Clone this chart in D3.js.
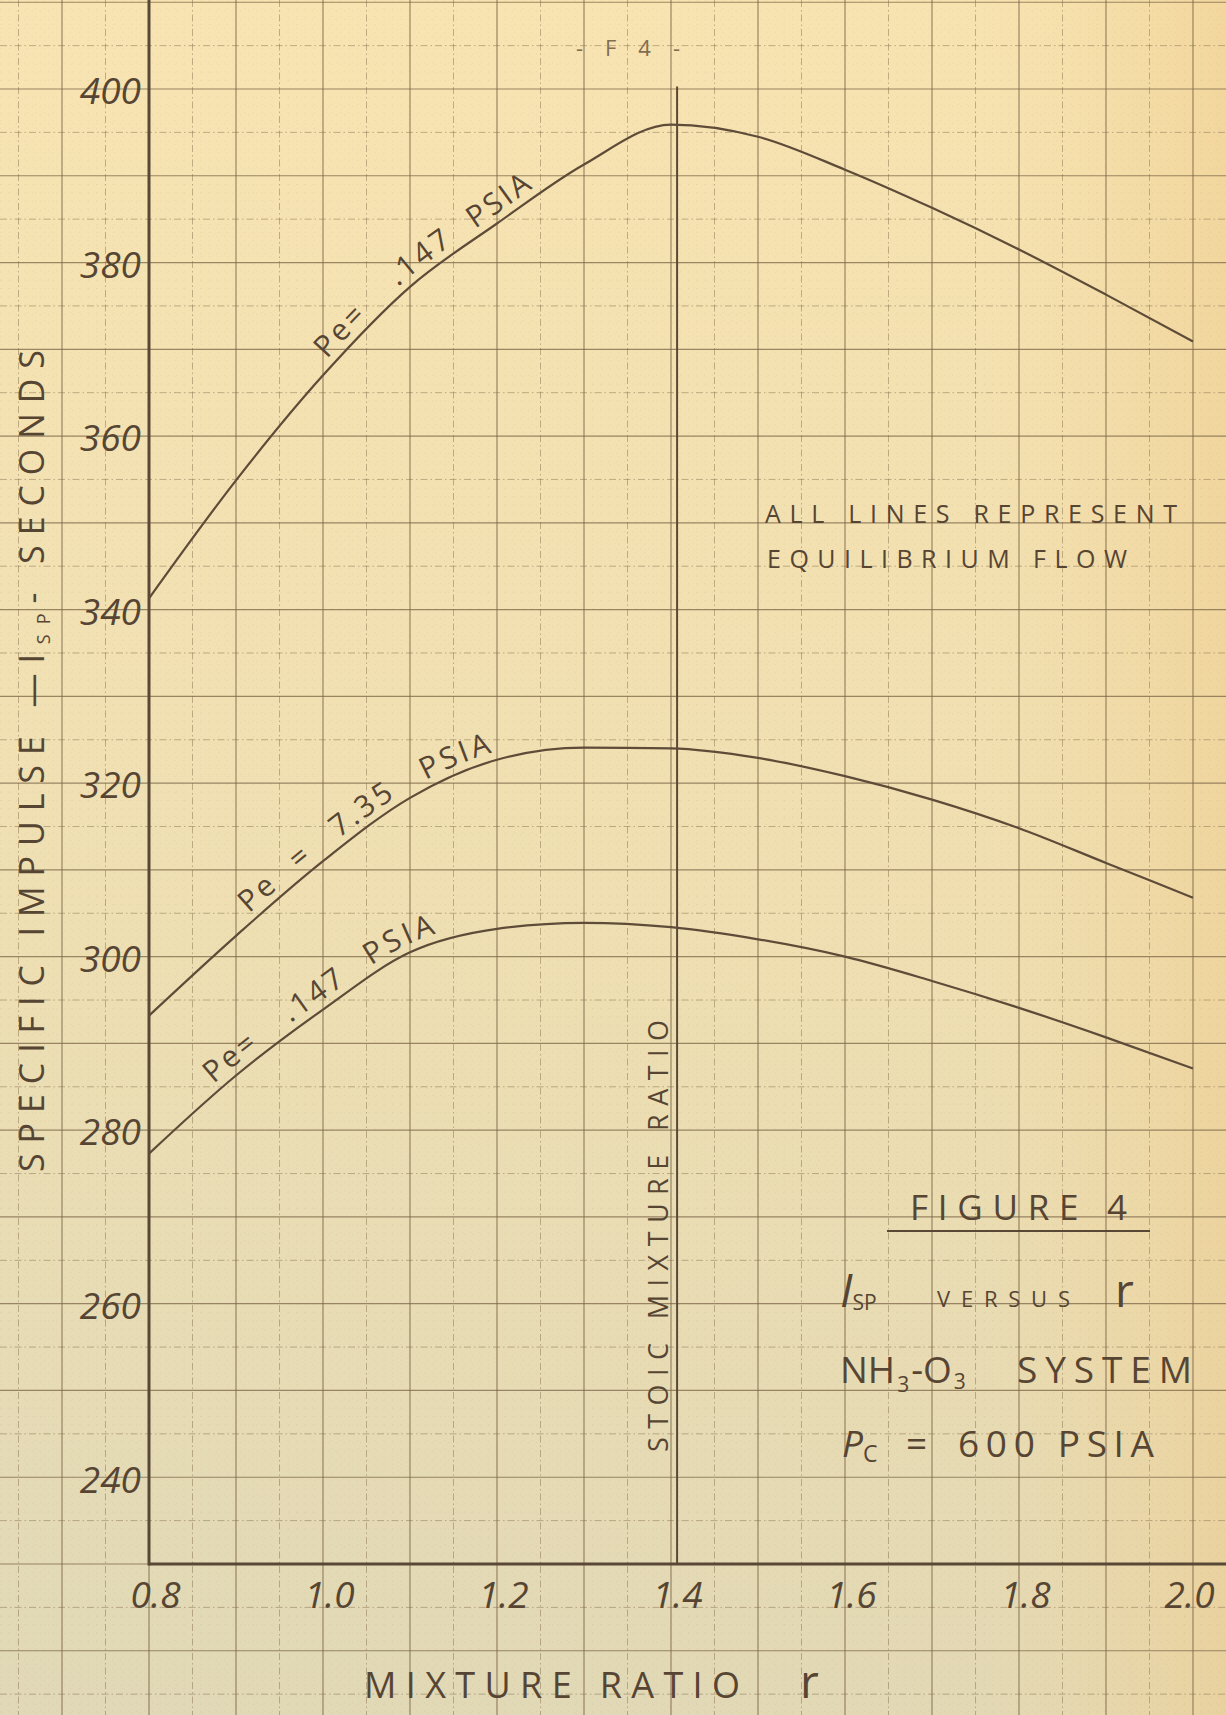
<!DOCTYPE html>
<html>
<head>
<meta charset="utf-8">
<script src="https://cdn.jsdelivr.net/npm/d3@7"></script>
<style>
html, body { margin: 0; padding: 0; background: #efe0b4; }
svg { display: block; }
text { font-family: "Open Sans", "DejaVu Sans", sans-serif; fill: #574533; font-weight: 400; }
</style>
</head>
<body>
<div class="chart"></div>
<script>
// values
var ratio   = [0.8, 0.9, 1.0, 1.1, 1.2, 1.3, 1.4, 1.5, 1.6, 1.7, 1.8, 1.9, 2.0];
var ispLow  = [341.3, 354.9, 367.0, 377.2, 384.5, 391.3, 395.9, 394.5, 390.7, 386.3, 381.5, 376.3, 370.9]; // Pe = .147 (top)
var ispMid  = [293.2, 302.4, 311.0, 318.3, 322.7, 324.1, 324.0, 322.9, 320.8, 318.1, 314.8, 310.8, 306.8]; // Pe = 7.35
var ispHigh = [277.3, 286.3, 293.9, 300.5, 303.2, 303.9, 303.4, 302.0, 300.0, 297.2, 294.1, 290.7, 287.1]; // bottom
var stoicRatio = 1.407;

var xTicks = [0.8, 1.0, 1.2, 1.4, 1.6, 1.8, 2.0];
var yTicks = [240, 260, 280, 300, 320, 340, 360, 380, 400];

//Page size
var svgWidth = 1226;
var svgHeight = 1715;

var svg = d3.select(".chart")
    .append("svg")
    .attr("width", svgWidth)
    .attr("height", svgHeight);

//Scales (paper position of the axes)
var xScale = d3.scaleLinear().domain([0.8, 2.0]).range([149, 1193]);
var yScale = d3.scaleLinear().domain([230, 400]).range([1564, 89]);

//Paper colour
var defs = svg.append("defs");
var g1 = defs.append("linearGradient").attr("id", "paper").attr("x1", 0).attr("y1", 0).attr("x2", 0).attr("y2", 1);
g1.append("stop").attr("offset", "0%").attr("stop-color", "#f8e4b2");
g1.append("stop").attr("offset", "55%").attr("stop-color", "#eedfb3");
g1.append("stop").attr("offset", "100%").attr("stop-color", "#e0d8b7");
var g2 = defs.append("linearGradient").attr("id", "tint").attr("x1", 0).attr("y1", 0).attr("x2", 1).attr("y2", 0);
g2.append("stop").attr("offset", "0%").attr("stop-color", "#f3d9a0").attr("stop-opacity", 0);
g2.append("stop").attr("offset", "80%").attr("stop-color", "#f3d9a0").attr("stop-opacity", 0.12);
g2.append("stop").attr("offset", "100%").attr("stop-color", "#efcd8f").attr("stop-opacity", 0.6);

svg.append("rect").attr("width", svgWidth).attr("height", svgHeight).attr("fill", "url(#paper)");
svg.append("rect").attr("width", svgWidth).attr("height", svgHeight).attr("fill", "url(#tint)");

//Graph paper rulings
var xLo = xScale.invert(0), xHi = xScale.invert(svgWidth);
var yLo = yScale.invert(svgHeight), yHi = yScale.invert(0);

function steps(lo, hi, per) {
    return d3.range(Math.ceil(lo * per), Math.floor(hi * per) + 1);
}

var grid = svg.append("g");

//fine dotted rulings
grid.selectAll(".vfine").data(steps(xLo, xHi, 100).filter(k => k % 5)).enter()
    .append("line")
    .attr("x1", k => xScale(k / 100)).attr("x2", k => xScale(k / 100))
    .attr("y1", 0).attr("y2", svgHeight)
    .attr("stroke", "#8c7a5a").attr("stroke-width", 0.8)
    .attr("stroke-dasharray", "1,7").attr("opacity", 0.12);
grid.selectAll(".hfine").data(steps(yLo, yHi, 1).filter(k => k % 5)).enter()
    .append("line")
    .attr("y1", k => yScale(k)).attr("y2", k => yScale(k))
    .attr("x1", 0).attr("x2", svgWidth)
    .attr("stroke", "#8c7a5a").attr("stroke-width", 0.8)
    .attr("stroke-dasharray", "1,7").attr("opacity", 0.12);

//half rulings, dash-dot
grid.selectAll(".vhalf").data(steps(xLo, xHi, 20).filter(k => k % 2)).enter()
    .append("line")
    .attr("x1", k => xScale(k / 20)).attr("x2", k => xScale(k / 20))
    .attr("y1", 0).attr("y2", svgHeight)
    .attr("stroke", "#8a7452").attr("stroke-width", 1)
    .attr("stroke-dasharray", "7,3,1.5,3").attr("opacity", 0.5);
grid.selectAll(".hhalf").data(steps(yLo, yHi, 0.2).filter(k => k % 2)).enter()
    .append("line")
    .attr("y1", k => yScale(k * 5)).attr("y2", k => yScale(k * 5))
    .attr("x1", 0).attr("x2", svgWidth)
    .attr("stroke", "#8a7452").attr("stroke-width", 1)
    .attr("stroke-dasharray", "7,3,1.5,3").attr("opacity", 0.5);

//main rulings
grid.selectAll(".vmaj").data(steps(xLo, xHi, 10)).enter()
    .append("line")
    .attr("x1", k => xScale(k / 10)).attr("x2", k => xScale(k / 10))
    .attr("y1", 0).attr("y2", svgHeight)
    .attr("stroke", "#7d6748").attr("stroke-width", 1.2).attr("opacity", 0.75);
grid.selectAll(".hmaj").data(steps(yLo, yHi, 0.1)).enter()
    .append("line")
    .attr("y1", k => yScale(k * 10)).attr("y2", k => yScale(k * 10))
    .attr("x1", 0).attr("x2", svgWidth)
    .attr("stroke", "#7d6748").attr("stroke-width", 1.2).attr("opacity", 0.75);

//Axes lines
var ink = "#5a4836";
svg.append("line")
    .attr("x1", xScale(0.8)).attr("x2", xScale(0.8))
    .attr("y1", 0).attr("y2", yScale(230) + 1.5)
    .attr("stroke", ink).attr("stroke-width", 3);
svg.append("line")
    .attr("x1", xScale(0.8)).attr("x2", svgWidth)
    .attr("y1", yScale(230)).attr("y2", yScale(230))
    .attr("stroke", ink).attr("stroke-width", 3);

//stoichiometric line
svg.append("line")
    .attr("x1", xScale(stoicRatio)).attr("x2", xScale(stoicRatio))
    .attr("y1", yScale(230)).attr("y2", yScale(400.3))
    .attr("stroke", ink).attr("stroke-width", 2);

//Tick labels through the d3 axes
var leftAxis = d3.axisLeft(yScale).tickValues(yTicks).tickSize(0).tickPadding(8);
var bottomAxis = d3.axisBottom(xScale).tickValues(xTicks).tickSize(0).tickPadding(18).tickFormat(d3.format(".1f"));

var yAxisG = svg.append("g")
    .attr("transform", `translate(${xScale(0.8)}, 0)`)
    .call(leftAxis);
yAxisG.select(".domain").remove();
yAxisG.selectAll("text")
    .attr("font-size", 37).attr("font-style", "italic")
    .attr("dy", "0.40em").attr("font-family", null);

var xAxisG = svg.append("g")
    .attr("transform", `translate(0, ${yScale(230)})`)
    .call(bottomAxis);
xAxisG.select(".domain").remove();
xAxisG.selectAll("text")
    .attr("font-size", 37).attr("font-style", "italic")
    .attr("dx", d => d === 2.0 ? -4 : 6).attr("font-family", null);

//Curves
var line = d3.line()
    .x(d => xScale(d[0]))
    .y(d => yScale(d[1]))
    .curve(d3.curveMonotoneX);

//hand lettering written along each curve: [text, ratio where it starts]
var series = [
    { id: "c1", values: ispLow,  pieces: [["Pe=", 1.011], [".147", 1.092], ["PSIA", 1.180]] },
    { id: "c2", values: ispMid,  pieces: [["Pe", 0.921], ["=", 0.978], ["7.35", 1.024], ["PSIA", 1.122]] },
    { id: "c3", values: ispHigh, pieces: [["Pe=", 0.880], [".147", 0.968], ["PSIA", 1.060]] }
];

function lengthAtX(node, px) {
    var lo = 0, hi = node.getTotalLength();
    for (var i = 0; i < 40; i++) {
        var mid = (lo + hi) / 2;
        if (node.getPointAtLength(mid).x < px) lo = mid; else hi = mid;
    }
    return lo;
}

series.forEach(function(s) {
    var pts = ratio.map((r, i) => [r, s.values[i]]);
    var path = svg.append("path")
        .attr("id", s.id)
        .attr("d", line(pts))
        .attr("fill", "none")
        .attr("stroke", "#5e4b38")
        .attr("stroke-width", 2.2);

    var node = path.node();
    s.pieces.forEach(function(p) {
        svg.append("text")
            .attr("font-size", 30)
            .attr("letter-spacing", 3)
            .attr("dy", -8)
            .append("textPath")
            .attr("href", "#" + s.id)
            .attr("startOffset", lengthAtX(node, xScale(p[1])))
            .text(p[0]);
    });
});

//Axis titles
var yTitle = svg.append("text")
    .attr("transform", "translate(44, 761) rotate(-90)")
    .attr("text-anchor", "middle")
    .attr("font-size", 34)
    .attr("textLength", 822)
    .attr("lengthAdjust", "spacing");
yTitle.append("tspan").text("SPECIFIC IMPULSE \u2014I");
yTitle.append("tspan").attr("font-size", 18).attr("dy", 6).text("SP");
yTitle.append("tspan").attr("dy", -6).text("- SECONDS");

svg.append("text")
    .attr("x", 364).attr("y", 1698)
    .attr("font-size", 36)
    .attr("textLength", 376)
    .attr("lengthAdjust", "spacing")
    .text("MIXTURE RATIO");
svg.append("text")
    .attr("x", 800).attr("y", 1698)
    .attr("font-size", 46)
    .text("r");

svg.append("text")
    .attr("transform", `translate(${xScale(stoicRatio) - 9}, 1452) rotate(-90)`)
    .attr("font-size", 27)
    .attr("textLength", 432)
    .attr("lengthAdjust", "spacing")
    .text("STOIC MIXTURE RATIO");

//Notes
svg.append("text")
    .attr("x", 765).attr("y", 523)
    .attr("font-size", 25)
    .attr("textLength", 412)
    .attr("lengthAdjust", "spacing")
    .text("ALL LINES REPRESENT");
svg.append("text")
    .attr("x", 767).attr("y", 568)
    .attr("font-size", 25)
    .attr("textLength", 360)
    .attr("lengthAdjust", "spacing")
    .text("EQUILIBRIUM FLOW");

//Page number
svg.append("text")
    .attr("x", 576).attr("y", 56)
    .attr("font-family", "Liberation Serif, serif")
    .attr("font-size", 22)
    .style("fill", "#806d52")
    .attr("textLength", 104)
    .attr("lengthAdjust", "spacing")
    .text("- F 4 -");

//Figure caption block
svg.append("text")
    .attr("x", 910).attr("y", 1220)
    .attr("font-size", 35)
    .attr("textLength", 217)
    .attr("lengthAdjust", "spacing")
    .text("FIGURE 4");
svg.append("line")
    .attr("x1", 887).attr("x2", 1150)
    .attr("y1", 1231).attr("y2", 1231)
    .attr("stroke", ink).attr("stroke-width", 2.2);

var cap1 = svg.append("text").attr("x", 840).attr("y", 1307).attr("font-size", 46);
cap1.append("tspan").attr("font-style", "italic").text("I");
cap1.append("tspan").attr("font-size", 21).attr("dy", 3).text("SP");
svg.append("text")
    .attr("x", 937).attr("y", 1307)
    .attr("font-size", 22)
    .attr("textLength", 133)
    .attr("lengthAdjust", "spacing")
    .text("VERSUS");
svg.append("text")
    .attr("x", 1115).attr("y", 1307)
    .attr("font-size", 46)
    .text("r");

var cap2 = svg.append("text").attr("x", 840).attr("y", 1383).attr("font-size", 37);
cap2.append("tspan").text("NH");
cap2.append("tspan").attr("font-size", 21).attr("dy", 9).attr("dx", 2).text("3");
cap2.append("tspan").attr("dy", -9).attr("dx", 2).text("-O");
cap2.append("tspan").attr("font-size", 21).attr("dy", 6).attr("dx", 2).text("3");
svg.append("text")
    .attr("x", 1017).attr("y", 1383)
    .attr("font-size", 37)
    .attr("textLength", 175)
    .attr("lengthAdjust", "spacing")
    .text("SYSTEM");

var cap3 = svg.append("text").attr("x", 842).attr("y", 1457).attr("font-size", 37);
cap3.append("tspan").attr("font-style", "italic").text("P");
cap3.append("tspan").attr("font-size", 23).attr("dy", 5).text("C");
svg.append("text")
    .attr("x", 906).attr("y", 1457)
    .attr("font-size", 37)
    .text("=");
svg.append("text")
    .attr("x", 958).attr("y", 1457)
    .attr("font-size", 37)
    .attr("textLength", 196)
    .attr("lengthAdjust", "spacing")
    .text("600 PSIA");
</script>
</body>
</html>
